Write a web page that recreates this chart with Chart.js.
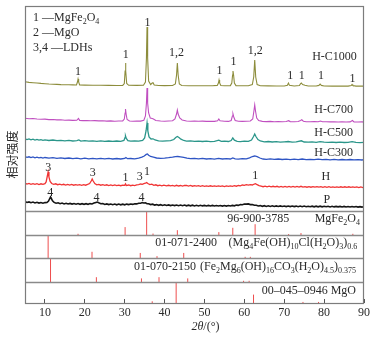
<!DOCTYPE html>
<html>
<head>
<meta charset="utf-8">
<script src="https://cdn.jsdelivr.net/npm/chart.js@4.4.1/dist/chart.umd.min.js"></script>
<style>
  html, body { margin: 0; padding: 0; background: #fff; }
  #wrap { width: 377px; height: 341px; }
</style>
</head>
<body>
<div id="wrap"><canvas id="xrd" width="377" height="341"></canvas></div>
<script>
// XRD patterns, [2θ (°), intensity] — each pattern already carries its stacking offset
const patternHC1000 = [[5,221.2],[6,220.6],[7,220.3],[8,220],[9,219.6],[10,219.3],[11,219],[12,218.8],[13,218.6],[14,218.4],[15,218.3],[16,218.2],[17,218.1],[17.9,218],[18.15,221],[18.3,224],[18.45,221],[18.7,218],[20,217.9],[22,217.8],[24,217.7],[26,217.6],[28,217.5],[29.5,217.6],[29.9,219.5],[30.1,232],[30.2,240],[30.3,232],[30.5,219.5],[31,217.7],[33,217.6],[34.7,217.8],[35.2,221],[35.45,245],[35.6,276],[35.75,245],[36.0,222],[36.5,218.5],[36.9,220],[37.1,220.3],[37.4,218],[38.5,217.5],[40,217.4],[42,217.5],[42.7,219],[43.0,228],[43.2,240],[43.4,228],[43.7,219],[44.3,217.5],[46,217.3],[48,217.3],[50,217.2],[52,217.2],[53.2,217.6],[53.5,220],[53.65,223],[53.8,220],[54.1,217.5],[55,217.2],[56.5,217.4],[56.85,220],[57.05,228],[57.15,232],[57.3,228],[57.5,220],[57.9,217.4],[59,217.2],[61,217.3],[62.0,218.5],[62.35,226],[62.6,243],[62.85,226],[63.2,218.5],[64,217.3],[66,217.1],[68,217],[70,217],[70.8,217.8],[71.05,220],[71.3,217.8],[72.5,217],[73.8,217.5],[74.1,219.3],[74.3,220],[74.6,218.5],[75.2,217.8],[76,217],[78,217],[78.7,217.6],[79,219],[79.3,217.6],[80,217],[82,216.9],[84,216.9],[86,216.9],[86.8,217.5],[87,218.5],[87.2,217.5],[88,216.9],[90,216.9]];

const patternHC700 = [[5,184.8],[6,184.3],[7,184.5],[8,184],[9,183.8],[10,183.9],[11,183.4],[12,183.5],[13,183.1],[14,183.2],[15,182.8],[16,182.9],[17,182.6],[18,182.7],[18.4,184.5],[18.7,182.6],[19.5,182.4],[20.5,182.5],[21.5,182.2],[22.5,182.4],[23.5,182.1],[24.5,182.2],[25.5,181.9],[26.5,182.1],[27.5,181.8],[28.5,182],[29.5,182.1],[29.9,184],[30.1,190],[30.2,194],[30.35,189],[30.6,183.5],[31.2,182],[32,181.8],[33,182],[34,181.9],[34.8,182.8],[35.2,187],[35.45,200],[35.6,215],[35.75,200],[36.0,190],[36.4,185],[36.9,184.5],[37.2,184],[37.8,182.5],[39,182],[40,181.8],[41,182],[42,182.2],[42.6,184],[43.0,189],[43.2,193],[43.4,189],[43.8,185],[44.4,183],[45.5,182],[46.5,181.8],[47.5,182],[48.5,181.7],[49.5,181.9],[50.5,181.6],[51.5,181.8],[52.5,181.6],[53.3,182.2],[53.6,184],[53.9,182.2],[55,181.7],[56,181.6],[56.7,182.5],[57.0,187],[57.15,189],[57.35,186],[57.7,182.5],[58.5,181.8],[59.5,181.6],[60.5,181.8],[61.5,182],[62.1,184],[62.4,192],[62.6,198],[62.8,192],[63.1,185],[63.6,182.5],[64.5,181.6],[65.5,181.4],[66.5,181.6],[67.5,181.3],[68.5,181.5],[69.5,181.3],[70.5,181.5],[71.1,182.3],[71.5,181.4],[72.5,181.3],[73.5,181.5],[74.1,182.5],[74.4,183.2],[74.8,181.8],[75.5,181.3],[76.5,181.2],[77.5,181.4],[78.5,181.2],[79.1,182],[79.6,181.2],[80.5,181.3],[81.5,181.1],[82.5,181.2],[83.5,181],[84.5,181.2],[85.5,181],[86.5,181.1],[87.1,182.5],[87.5,181.1],[88.5,181],[89.5,181.1],[90,180.9]];

const patternHC500 = [[5,164.2],[5.5,163.4],[6,164],[6.5,163.2],[7,163.8],[7.5,163],[8,163.6],[8.5,162.9],[9,163.4],[9.5,162.7],[10,163.2],[11,162.5],[12,163],[13,162.3],[14,162.7],[15,162.1],[16,162.6],[17,162],[18,162.4],[18.5,163],[19,161.9],[20,162.3],[21,161.8],[22,162.2],[23,161.7],[24,162.1],[25,161.6],[26,162],[27,161.6],[28,162],[29,161.7],[29.8,162.5],[30.1,165.5],[30.2,167],[30.4,164.5],[30.8,162.3],[31.5,161.8],[32.5,162.1],[33.5,161.8],[34.5,162.6],[35.0,165],[35.35,172],[35.6,180],[35.8,172],[36.1,166],[36.6,164],[37.1,164.2],[37.6,163],[38.5,162.2],[39.5,161.8],[40.5,162.2],[41.5,162.3],[42.3,163.5],[42.8,165.5],[43.2,166.5],[43.6,165.5],[44.1,163.8],[44.8,162.5],[45.5,161.9],[46.5,162.1],[47.5,161.6],[48.5,161.9],[49.5,161.5],[50.5,161.8],[51.5,161.4],[52.5,161.7],[53.6,162.8],[54.2,161.6],[55,161.8],[56,161.5],[56.7,162.5],[57.1,165],[57.5,162.8],[58.2,161.7],[59,161.4],[60,161.8],[61,161.6],[61.8,163],[62.3,166.5],[62.6,169],[62.9,166.5],[63.4,163.5],[64,162],[65,161.2],[66,161.5],[67,161],[68,161.3],[69,160.9],[70,161.2],[71,161.5],[72,160.9],[73,161.1],[74.3,162.2],[75,161],[76,160.8],[77,161.1],[78,160.7],[79,161.3],[80,160.8],[81,160.6],[82,160.9],[83,160.5],[84,160.8],[85,160.5],[86,160.7],[87,161.3],[88,160.6],[89,160.4],[90,160.6]];

const patternHC300 = [[5,146.4],[5.5,145.6],[6,146.2],[6.5,145.4],[7,146],[7.5,145.2],[8,145.8],[8.5,145.1],[9,145.6],[9.5,144.9],[10,145.5],[11,144.8],[12,145.3],[13,144.6],[14,145.1],[15,144.5],[16,145],[17,144.3],[18,144.9],[19,144.2],[20,144.8],[21,144.1],[22,144.7],[23,144.1],[24,144.6],[25,144.1],[26,144.6],[27,144],[28,144.5],[29,144],[30,144.6],[30.3,145.5],[30.7,144.3],[31.5,144.5],[32.5,144.1],[33.5,144.8],[34.3,145.8],[34.9,147],[35.4,148.6],[35.7,149],[36.0,147.8],[36.5,146.5],[37.2,145.8],[38,145],[39,144.6],[40,144.9],[41,145.3],[42,145.8],[42.7,146.4],[43.3,146.5],[44,146.2],[44.8,145.6],[45.6,144.8],[46.5,144.4],[47.5,144.7],[48.5,144.2],[49.5,144.6],[50.5,144],[51.5,144.4],[52.5,143.9],[53.5,144.6],[54.5,144],[55.5,144.3],[56.5,144],[57.1,145],[57.7,144.2],[58.5,143.9],[59.5,144.3],[60.5,144.1],[61.3,145.2],[62,146.5],[62.6,147],[63.2,146.3],[63.9,145],[64.7,144],[65.5,143.7],[66.5,144.1],[67.5,143.6],[68.5,144],[69.5,143.5],[70.5,143.9],[71.5,143.4],[72.5,143.8],[73.5,143.4],[74.5,144],[75.5,143.4],[76.5,143.7],[77.5,143.3],[78.5,143.8],[79.5,143.3],[80.5,143.6],[81.5,143.2],[82.5,143.6],[83.5,143.2],[84.5,143.5],[85.5,143.1],[86.5,143.5],[87.5,143.1],[88.5,143.4],[89.5,143],[90,143.3]];

const patternH = [[5,119.8],[5.5,118.9],[6,119.6],[6.5,118.7],[7,119.4],[7.5,118.6],[8,119.3],[8.5,118.5],[9,119.2],[9.5,118.6],[10,119.4],[10.3,121],[10.55,126],[10.8,131],[11.0,126],[11.3,121.5],[11.7,119.5],[12.2,118.6],[12.7,119.2],[13.2,118.3],[13.7,118.9],[14.2,118.1],[14.7,118.7],[15.2,118],[15.7,118.6],[16.2,117.9],[16.7,118.5],[17.2,117.8],[17.7,118.4],[18.2,117.8],[18.7,118.3],[19.2,117.7],[19.7,118.3],[20.2,117.8],[20.7,118.6],[21.2,119.5],[21.6,122],[21.85,124],[22.1,122],[22.5,119.5],[23,118.2],[23.5,118.6],[24,117.8],[24.5,118.3],[25,117.6],[25.5,118.2],[26,117.5],[26.5,118.1],[27,117.4],[27.5,118],[28,117.4],[28.5,117.9],[29,117.3],[29.5,117.9],[30,117.6],[30.2,119],[30.4,117.4],[31,118],[31.5,117.3],[32,117.9],[32.5,117.4],[33,118.1],[33.5,118.4],[34,119],[34.4,118.6],[34.8,119.3],[35.2,119.8],[35.5,120.5],[35.8,119.5],[36.3,118.4],[36.8,118.8],[37.3,117.7],[37.8,118.2],[38.3,117.3],[38.8,117.9],[39.3,117.2],[39.8,117.8],[40.5,117.1],[41,117.7],[41.5,117.1],[42,117.6],[42.5,117],[43,117.7],[43.5,117],[44,117.5],[44.5,116.9],[45,117.5],[45.5,117.5],[46,116.9],[46.5,117.5],[47,116.8],[47.5,117.4],[48,116.8],[48.5,117.3],[49,116.7],[49.5,117.3],[50,116.7],[50.5,117.2],[51,116.6],[51.5,117.2],[52,116.6],[52.5,117.2],[53,116.7],[53.5,117.2],[54,116.6],[54.5,117.1],[55,116.5],[55.5,117.1],[56,116.6],[56.5,117.2],[57,116.7],[57.5,117.3],[58,116.8],[58.5,117.5],[59,117.1],[59.5,118],[60,117.6],[60.5,118.3],[61,117.8],[61.5,118.4],[62,118],[62.5,119],[62.8,119.3],[63.2,118.3],[63.7,117.4],[64.2,116.9],[64.7,116.3],[65.2,116.9],[65.7,116.2],[66.2,116.8],[66.7,116.1],[67.2,116.7],[67.7,116.1],[68.2,116.7],[68.7,116],[69.2,116.6],[69.7,116],[70.2,116.6],[70.7,116],[71.2,116.6],[71.7,115.9],[72.2,116.5],[72.7,115.9],[73.2,116.5],[73.7,115.9],[74.2,116.7],[74.7,115.9],[75.2,116.4],[75.7,115.8],[76.2,116.4],[76.7,115.8],[77.2,116.4],[77.7,115.8],[78.2,116.3],[78.7,115.8],[79.2,116.3],[79.7,115.7],[80.2,116.3],[80.7,115.7],[81.2,116.3],[81.7,115.7],[82.2,116.2],[82.7,115.7],[83.2,116.2],[83.7,115.6],[84.2,116.2],[84.7,115.6],[85.2,116.2],[85.7,115.6],[86.2,116.2],[86.7,115.6],[87.2,116.1],[87.7,115.6],[88.2,116.1],[88.7,115.5],[89.2,116.1],[89.7,115.5],[90,116]];

const patternP = [[5,101.4],[5.5,100.5],[6,101.1],[6.5,100.3],[7,100.9],[7.5,100.1],[8,100.7],[8.5,99.9],[9,100.5],[9.5,99.8],[10,100.4],[10.5,100.5],[10.9,102],[11.2,104.5],[11.4,106],[11.6,104.5],[11.9,102.2],[12.3,100.6],[12.8,99.8],[13.3,100.2],[13.8,99.3],[14.3,99.9],[14.8,99.1],[15.3,99.7],[15.8,99],[16.3,99.6],[16.8,98.9],[17.3,99.5],[17.8,98.8],[18.3,99.4],[18.8,98.7],[19.3,99.3],[19.8,98.7],[20.3,99.3],[20.8,98.7],[21.3,99.4],[21.8,99],[22.3,99.9],[22.8,100.6],[23.1,101],[23.5,100.2],[24,99.3],[24.5,99.4],[25,98.5],[25.5,99.1],[26,98.4],[26.5,99],[27,98.3],[27.5,98.9],[28,98.2],[28.5,98.9],[29,98.2],[29.5,98.8],[30,98.2],[30.5,98.9],[31,98.4],[31.5,99],[32,98.6],[32.5,99.3],[33,99.1],[33.5,99.8],[34,99.8],[34.4,100.4],[34.8,100],[35.2,100.1],[35.6,99.2],[36,99.3],[36.5,98.4],[37,98.8],[37.5,97.9],[38,98.4],[38.5,97.7],[39,98.3],[39.5,97.6],[40,98.2],[40.5,97.5],[41,98.1],[41.5,97.4],[42,98],[42.5,97.4],[43,98],[43.5,97.3],[44,97.9],[44.5,97.3],[45,97.9],[45.5,97.2],[46,97.8],[46.5,97.2],[47,97.8],[47.5,97.1],[48,97.7],[48.5,97.1],[49,97.7],[49.5,97.1],[50,97.6],[50.5,97],[51,97.6],[51.5,97],[52,97.6],[52.5,97],[53,97.5],[53.5,97],[54,97.5],[54.5,96.9],[55,97.5],[55.5,96.9],[56,97.5],[56.5,97],[57,97.6],[57.5,97.2],[58,97.9],[58.5,97.6],[59,98.4],[59.5,98.2],[60,98.9],[60.5,98.9],[61,99.1],[61.5,98.4],[62,98.5],[62.5,97.7],[63,97.8],[63.5,97],[64,97.4],[64.5,96.7],[65,97.3],[65.5,96.6],[66,97.2],[66.5,96.6],[67,97.2],[67.5,96.5],[68,97.1],[68.5,96.5],[69,97.1],[69.5,96.5],[70,97],[70.5,96.4],[71,97],[71.5,96.4],[72,97],[72.5,96.4],[73,96.9],[73.5,96.3],[74,96.9],[74.5,96.3],[75,96.9],[75.5,96.3],[76,96.8],[76.5,96.3],[77,96.8],[77.5,96.2],[78,96.8],[78.5,96.2],[79,96.8],[79.5,96.2],[80,96.7],[80.5,96.2],[81,96.7],[81.5,96.1],[82,96.7],[82.5,96.1],[83,96.6],[83.5,96.1],[84,96.6],[84.5,96],[85,96.6],[85.5,96],[86,96.5],[86.5,96],[87,96.5],[87.5,96],[88,96.5],[88.5,95.9],[89,96.4],[89.5,95.9],[90,96.3]];

// Reference cards, [2θ (°), relative intensity %]
const refMgFe2O4 = [[18.3,5],[30.1,33],[35.5,100],[37.1,6],[43.2,20],[53.6,12],[57.1,30],[62.7,45],[71.1,4],[74.2,8],[87.2,5]];
const refClLDH   = [[10.8,100],[21.8,27],[33.9,22],[38.1,8],[44.8,22],[60.2,5],[61.5,5]];
const refCO3LDH  = [[11.4,100],[22.9,20],[34.2,15],[38.6,20],[45.8,15],[59.8,5],[61.2,5]];
const refMgO     = [[36.9,8],[42.9,100],[62.3,40],[74.7,5],[78.6,5]];

const sampleNames = ['P', 'H', 'H-C300', 'H-C500', 'H-C700', 'H-C1000'];
const xTickValues = [10, 20, 30, 40, 50, 60, 70, 80, 90];

// ---- layout of the stacked figure (in intensity units of the y scale) ----
const Y_MAX = 297;
const panels = [
  { ref: refMgFe2O4, base: 68, height: 24, card: '96-900-3785', cardAt: [63.5, 84, 'center'], phase: 'MgFe_2O_4', phaseAt: [89, 84] },
  { ref: refClLDH,   base: 45, height: 23, card: '01-071-2400', cardAt: [45.4, 60, 'center'], phase: '(Mg_4Fe(OH)_{10}Cl(H_2O)_3)_{0.6}', phaseAt: [88.3, 60] },
  { ref: refCO3LDH,  base: 21, height: 24, card: '01-070-2150', cardAt: [40.1, 36, 'center'], phase: '(Fe_2Mg_6(OH)_{16}CO_3(H_2O)_{4.5})_{0.375}', phaseAt: [88, 36] },
  { ref: refMgO,     base: 0,  height: 21, card: '00\u2013045\u20130946 MgO', cardAt: [88, 12, 'right'], phase: null }
];
const panelTops = [92, 68, 45, 21];

const sampleStyle = {
  'P':       { color: '#151515', width: 1.6, label: [80.7, 103] },
  'H':       { color: '#f03434', width: 1.3, label: [80.4, 126.5] },
  'H-C300':  { color: '#2f55c4', width: 1.3, label: [82.4, 150.5] },
  'H-C500':  { color: '#2b968a', width: 1.3, label: [82.4, 170] },
  'H-C700':  { color: '#c04fc0', width: 1.1, label: [82.4, 193] },
  'H-C1000': { color: '#8d8d3c', width: 1.1, label: [82.6, 245.7] }
};
const patterns = { 'P': patternP, 'H': patternH, 'H-C300': patternHC300, 'H-C500': patternHC500, 'H-C700': patternHC700, 'H-C1000': patternHC1000 };

// phase index labels above the reflections
const peakTags = [
  ['1', 18.3, 231], ['1', 30.25, 248], ['1', 35.7, 280.5], ['1,2', 43.0, 250], ['1', 53.75, 232],
  ['1', 57.3, 241], ['1,2', 62.75, 252.5], ['1', 71.5, 227], ['1', 74.4, 227], ['1', 79.2, 227.5], ['1', 87.1, 224],
  ['3', 10.8, 135.5], ['3', 22.0, 130], ['1', 30.2, 125], ['3', 33.75, 126], ['1', 35.6, 131.3], ['1', 62.75, 127],
  ['4', 11.3, 110.5], ['4', 22.9, 105.5], ['4', 34.2, 105.5]
];
const keyLines = [['1 \u2014MgFe_2O_4', 7, 285], ['2 \u2014MgO', 7, 270], ['3,4 \u2014LDHs', 7, 255]];

const SERIF = '"Liberation Serif", "Times New Roman", serif';
const TEXT = '#2a2a2a';

function richParts(str) {
  const parts = [];
  const re = /_\{([^}]*)\}|_(.)/g;
  let last = 0, m;
  while ((m = re.exec(str))) {
    if (m.index > last) parts.push({ t: str.slice(last, m.index), sub: false });
    parts.push({ t: m[1] !== undefined ? m[1] : m[2], sub: true });
    last = re.lastIndex;
  }
  if (last < str.length) parts.push({ t: str.slice(last), sub: false });
  return parts;
}

function drawRich(ctx, str, x, y, align, size) {
  const parts = richParts(str);
  const subSize = Math.round(size * 0.68);
  let total = 0;
  parts.forEach(p => {
    ctx.font = (p.sub ? subSize : size) + 'px ' + SERIF;
    p.w = ctx.measureText(p.t).width;
    total += p.w;
  });
  let cx = align === 'right' ? x - total : align === 'center' ? x - total / 2 : x;
  ctx.textAlign = 'left';
  ctx.textBaseline = 'middle';
  parts.forEach(p => {
    ctx.font = (p.sub ? subSize : size) + 'px ' + SERIF;
    ctx.fillText(p.t, cx, p.sub ? y + size * 0.3 : y);
    cx += p.w;
  });
}

const decor = {
  id: 'xrdDecor',
  afterDatasetsDraw(chart) {
    const { ctx, chartArea: a, scales: { x, y } } = chart;
    ctx.save();
    // panel separators
    ctx.strokeStyle = '#8a8a8a';
    ctx.lineWidth = 1.5;
    panelTops.forEach(v => {
      const py = Math.round(y.getPixelForValue(v)) + 0.5;
      ctx.beginPath(); ctx.moveTo(a.left, py); ctx.lineTo(a.right, py); ctx.stroke();
    });
    // frame
    ctx.strokeStyle = '#7c7c7c';
    ctx.lineWidth = 1.2;
    ctx.strokeRect(a.left + 0.5, a.top + 0.5, a.right - a.left - 1, a.bottom - a.top);

    ctx.fillStyle = TEXT;
    keyLines.forEach(([t, vx, vy]) => drawRich(ctx, t, x.getPixelForValue(vx), y.getPixelForValue(vy), 'left', 12));
    peakTags.forEach(([t, vx, vy]) => drawRich(ctx, t, x.getPixelForValue(vx), y.getPixelForValue(vy), 'center', 12));
    sampleNames.forEach(n => {
      const [vx, vy] = sampleStyle[n].label;
      drawRich(ctx, n, x.getPixelForValue(vx), y.getPixelForValue(vy), 'center', 12);
    });
    panels.forEach(p => {
      drawRich(ctx, p.card, x.getPixelForValue(p.cardAt[0]), y.getPixelForValue(p.cardAt[1]), p.cardAt[2], 12);
      if (p.phase) drawRich(ctx, p.phase, x.getPixelForValue(p.phaseAt[0]), y.getPixelForValue(p.phaseAt[1]), 'right', 12);
    });

    // axis title 2θ/(°)
    const tx = x.getPixelForValue(50.25), ty = x.bottom - 14;
    ctx.textBaseline = 'middle';
    ctx.font = 'italic 12px ' + SERIF;
    const w1 = ctx.measureText('2\u03b8').width;
    ctx.font = '12px ' + SERIF;
    const w2 = ctx.measureText('/(\u00b0)').width;
    let sx = tx - (w1 + w2) / 2;
    ctx.textAlign = 'left';
    ctx.font = 'italic 12px ' + SERIF;
    ctx.fillText('2\u03b8', sx, ty);
    ctx.font = '12px ' + SERIF;
    ctx.fillText('/(\u00b0)', sx + w1, ty);
    ctx.restore();
  }
};

const datasets = sampleNames.map(n => ({
  label: n,
  data: patterns[n].map(([a, b]) => ({ x: a, y: b })),
  borderColor: sampleStyle[n].color,
  borderWidth: sampleStyle[n].width,
  pointRadius: 0,
  tension: 0,
  fill: false
}));

panels.forEach((p, i) => {
  const data = [];
  p.ref.forEach(([a, rel]) => {
    data.push({ x: a, y: p.base }, { x: a, y: p.base + rel / 100 * p.height }, { x: a, y: null });
  });
  datasets.push({
    label: 'ref' + i,
    data,
    borderColor: '#ee4e4e',
    borderWidth: 1,
    pointRadius: 0,
    spanGaps: false,
    fill: false
  });
});

new Chart(document.getElementById('xrd'), {
  type: 'line',
  data: { datasets },
  options: {
    responsive: false,
    animation: false,
    events: [],
    layout: { padding: { left: 0, right: 12, top: 6, bottom: 0 } },
    plugins: { legend: { display: false }, tooltip: { enabled: false } },
    scales: {
      x: {
        type: 'linear',
        min: 5, max: 90,
        afterBuildTicks: s => { s.ticks = xTickValues.map(v => ({ value: v })); },
        afterFit: s => { s.height = 38; },
        border: { display: false },
        grid: { drawOnChartArea: false, drawTicks: true, tickLength: -4, color: '#555' },
        ticks: { padding: 7, color: TEXT, font: { family: SERIF, size: 12 }, maxRotation: 0 }
      },
      y: {
        type: 'linear',
        min: 0, max: Y_MAX,
        afterFit: s => { s.width = 25; },
        border: { display: false },
        grid: { display: false },
        ticks: { display: false },
        title: { display: true, text: '相对强度', color: TEXT, padding: { top: 5, bottom: 0 },
                 font: { family: '"Noto Sans CJK SC", sans-serif', size: 12 } }
      }
    }
  },
  plugins: [decor]
});
</script>
</body>
</html>
